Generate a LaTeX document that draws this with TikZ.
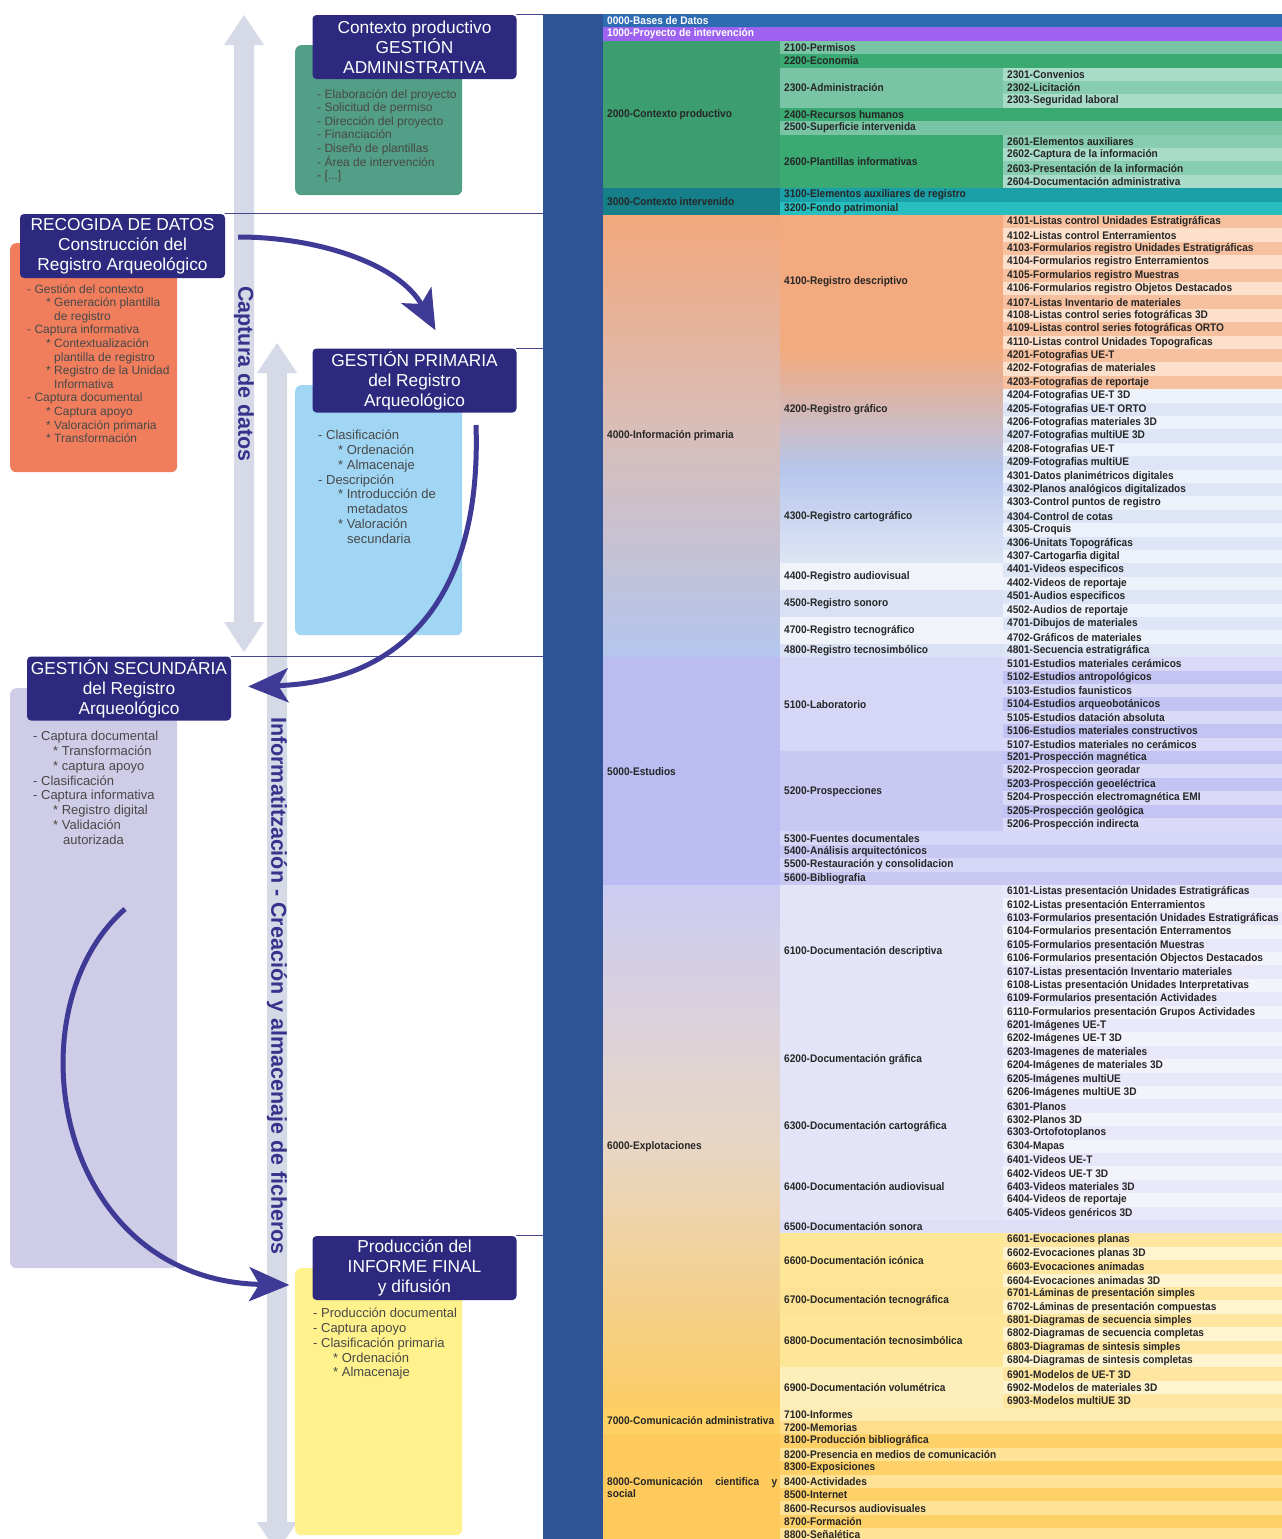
\documentclass[tikz,border=0pt]{standalone}
\usepackage{fontspec}
\setmainfont{Liberation Sans}
\newfontfamily\tabfont[FakeStretch=0.92]{Liberation Sans}
\usetikzlibrary{arrows.meta}

\definecolor{hdrc}{RGB}{45,41,126}
\definecolor{arrc}{RGB}{62,58,150}
\definecolor{linec}{RGB}{70,70,140}
\definecolor{garc}{RGB}{214,218,230}
\definecolor{vlabc}{RGB}{55,50,140}
\definecolor{grnc}{RGB}{82,158,134}
\definecolor{orgc}{RGB}{240,126,92}
\definecolor{bluc}{RGB}{160,214,244}
\definecolor{lavc}{RGB}{206,204,230}
\definecolor{yelc}{RGB}{255,242,140}
\definecolor{txtc}{RGB}{72,72,72}
\definecolor{bandc}{RGB}{46,84,150}
\definecolor{c00}{RGB}{46,108,178}
\definecolor{c10}{RGB}{158,98,240}
\definecolor{c2}{RGB}{60,158,112}
\definecolor{c2a}{RGB}{122,196,166}
\definecolor{c2b}{RGB}{58,170,114}
\definecolor{l2a}{RGB}{168,220,200}
\definecolor{l2b}{RGB}{136,204,178}
\definecolor{c3}{RGB}{22,128,138}
\definecolor{c3a}{RGB}{26,160,166}
\definecolor{c3b}{RGB}{38,190,190}
\definecolor{c4t}{RGB}{242,168,124}
\definecolor{c4m}{RGB}{216,190,186}
\definecolor{c4b}{RGB}{180,198,238}
\definecolor{c41}{RGB}{243,170,126}
\definecolor{c43t}{RGB}{182,198,236}
\definecolor{c43b}{RGB}{222,229,245}
\definecolor{c44}{RGB}{240,243,250}
\definecolor{c45}{RGB}{218,225,244}
\definecolor{l4a}{RGB}{247,192,158}
\definecolor{l4b}{RGB}{252,224,204}
\definecolor{l4c}{RGB}{222,229,246}
\definecolor{l4d}{RGB}{238,242,250}
\definecolor{c5}{RGB}{186,188,242}
\definecolor{c51}{RGB}{214,214,246}
\definecolor{c52}{RGB}{200,200,243}
\definecolor{l5a}{RGB}{196,196,244}
\definecolor{l5b}{RGB}{218,218,248}
\definecolor{c6t}{RGB}{204,204,242}
\definecolor{c6m}{RGB}{232,214,196}
\definecolor{c6b}{RGB}{252,204,100}
\definecolor{c61}{RGB}{228,228,248}
\definecolor{c65}{RGB}{222,222,246}
\definecolor{l6a}{RGB}{232,232,250}
\definecolor{l6b}{RGB}{243,243,252}
\definecolor{c66}{RGB}{253,230,150}
\definecolor{c67}{RGB}{252,226,148}
\definecolor{c69}{RGB}{254,238,186}
\definecolor{l6c}{RGB}{254,230,160}
\definecolor{l6d}{RGB}{255,244,208}
\definecolor{c7}{RGB}{254,210,100}
\definecolor{c71}{RGB}{254,236,180}
\definecolor{c72}{RGB}{254,222,140}
\definecolor{c8}{RGB}{254,202,92}
\definecolor{l8a}{RGB}{254,208,104}
\definecolor{l8b}{RGB}{254,226,150}

\newcommand\smtxt{\fontsize{12}{13.6}\selectfont}
\newcommand\bgtxt{\fontsize{13}{14.8}\selectfont}
\newcommand\tabtxt{\tabfont\bfseries\fontsize{11}{12}\selectfont}
% one cell of the table: name, left, right, first row, rows, fill, text
\newcommand\tcell[7]{%
	\path[#6] (#2,{14+#4*13.4}) rectangle (#3,{14+(#4+#5)*13.4});
	\node[cell] (#1) at ({#2+4},{14+(#4+#5/2)*13.4}) {#7};}
% one-row cells, alternating colours
\newcommand\leaves[5]{%
	\foreach \lbl [count=\k from #2] in {#5}{%
		\ifodd\k\relax\def\rowc{#3}\else\def\rowc{#4}\fi
		\tcell{r\k}{#1}{1282}{\k}{1}{fill=\rowc}{\lbl}}}

\begin{document}
\begin{tikzpicture}[>=Stealth,line join=round,line cap=round,x=1pt,y=-1pt,
	cell/.style={anchor=west,inner sep=0pt,font=\tabtxt,text=black!85},
	hdr/.style={fill=hdrc,text=white,rounded corners=4pt,minimum width=204pt,minimum height=64pt,inner sep=1pt,align=center,font=\fontsize{17.3}{20}\selectfont},
	card/.style={rounded corners=6pt,minimum width=167pt,anchor=north west,inner sep=0pt},
	txt/.style={anchor=north west,inner sep=0pt,align=left,text=txtc},
	vlab/.style={rotate=-90,inner sep=0pt,text=vlabc,font=\bfseries\fontsize{21.5}{24}\selectfont},
	flow/.style={draw=arrc,line width=5pt,line cap=butt,-{Stealth[length=40pt,width=34pt,inset=10pt]}},
	rule/.style={draw=linec,line width=1.1pt}]
	\path[use as bounding box,fill=white] (0,0) rectangle (1282,1539);
	\node[fill=bandc,minimum width=60pt,minimum height=1526pt,anchor=north west,inner sep=0pt] (band) at (543,14) {};
	% table
	\tcell{b0}{603}{1282}{0}{1}{fill=c00}{\color{white}0000-Bases de Datos}
	\tcell{b1}{603}{1282}{1}{1}{fill=c10}{\color{white}1000-Proyecto de intervención}
	\tcell{g2}{603}{780}{2}{11}{fill=c2}{2000-Contexto productivo}
	\tcell{g3}{603}{780}{13}{2}{fill=c3}{3000-Contexto intervenido}
	\tcell{g4}{603}{780}{15}{33}{top color=c4t,bottom color=c4b,middle color=c4m}{4000-Información primaria}
	\tcell{g5}{603}{780}{48}{17}{fill=c5}{5000-Estudios}
	\tcell{g6}{603}{780}{65}{39}{top color=c6t,bottom color=c6b,middle color=c6m}{6000-Explotaciones}
	\tcell{g7}{603}{780}{104}{2}{fill=c7}{7000-Comunicación administrativa}
	\tcell{g8}{603}{780}{106}{8}{fill=c8}{\parbox{170pt}{8000-Comunicación\hfill cientifica\hfill y\\social}}
	\tcell{m21}{780}{1282}{2}{1}{fill=c2a}{2100-Permisos}
	\tcell{m22}{780}{1282}{3}{1}{fill=c2b}{2200-Economia}
	\tcell{m23}{780}{1003}{4}{3}{fill=c2a}{2300-Administración}
	\tcell{m24}{780}{1282}{7}{1}{fill=c2b}{2400-Recursos humanos}
	\tcell{m25}{780}{1282}{8}{1}{fill=c2a}{2500-Superficie intervenida}
	\tcell{m26}{780}{1003}{9}{4}{fill=c2b}{2600-Plantillas informativas}
	\tcell{m31}{780}{1282}{13}{1}{fill=c3a}{3100-Elementos auxiliares de registro}
	\tcell{m32}{780}{1282}{14}{1}{fill=c3b}{3200-Fondo patrimonial}
	\tcell{m41}{780}{1003}{15}{10}{fill=c41}{4100-Registro descriptivo}
	\tcell{m42}{780}{1003}{25}{9}{top color=c41,bottom color=c43t}{4200-Registro gráfico}
	\tcell{m43}{780}{1003}{34}{7}{top color=c43t,bottom color=c43b}{4300-Registro cartográfico}
	\tcell{m44}{780}{1003}{41}{2}{fill=c44}{4400-Registro audiovisual}
	\tcell{m45}{780}{1003}{43}{2}{fill=c45}{4500-Registro sonoro}
	\tcell{m47}{780}{1003}{45}{2}{fill=c44}{4700-Registro tecnográfico}
	\tcell{m48}{780}{1003}{47}{1}{fill=c45}{4800-Registro tecnosimbólico}
	\tcell{m51}{780}{1003}{48}{7}{fill=c51}{5100-Laboratorio}
	\tcell{m52}{780}{1003}{55}{6}{fill=c52}{5200-Prospecciones}
	\tcell{m53}{780}{1282}{61}{1}{fill=c51}{5300-Fuentes documentales}
	\tcell{m54}{780}{1282}{62}{1}{fill=c52}{5400-Análisis arquitectónicos}
	\tcell{m55}{780}{1282}{63}{1}{fill=c51}{5500-Restauración y consolidacion}
	\tcell{m56}{780}{1282}{64}{1}{fill=c52}{5600-Bibliografia}
	\tcell{m61}{780}{1003}{65}{10}{fill=c61}{6100-Documentación descriptiva}
	\tcell{m62}{780}{1003}{75}{6}{fill=c61}{6200-Documentación gráfica}
	\tcell{m63}{780}{1003}{81}{4}{fill=c61}{6300-Documentación cartográfica}
	\tcell{m64}{780}{1003}{85}{5}{fill=c61}{6400-Documentación audiovisual}
	\tcell{m65}{780}{1282}{90}{1}{fill=c65}{6500-Documentación sonora}
	\tcell{m66}{780}{1003}{91}{4}{fill=c66}{6600-Documentación icónica}
	\tcell{m67}{780}{1003}{95}{2}{fill=c67}{6700-Documentación tecnográfica}
	\tcell{m68}{780}{1003}{97}{4}{fill=c66}{6800-Documentación tecnosimbólica}
	\tcell{m69}{780}{1003}{101}{3}{fill=c69}{6900-Documentación volumétrica}
	\tcell{m71}{780}{1282}{104}{1}{fill=c71}{7100-Informes}
	\tcell{m72}{780}{1282}{105}{1}{fill=c72}{7200-Memorias}
	\leaves{1003}{4}{l2b}{l2a}{2301-Convenios,2302-Licitación,2303-Seguridad laboral}
	\leaves{1003}{9}{l2b}{l2a}{2601-Elementos auxiliares,2602-Captura de la información,2603-Presentación de la información,2604-Documentación administrativa}
	\leaves{1003}{15}{l4a}{l4b}{4101-Listas control Unidades Estratigráficas,4102-Listas control Enterramientos,4103-Formularios registro Unidades Estratigráficas,4104-Formularios registro Enterramientos,4105-Formularios registro Muestras,4106-Formularios registro Objetos Destacados,4107-Listas Inventario de materiales,4108-Listas control series fotográficas 3D,4109-Listas control series fotográficas ORTO,4110-Listas control Unidades Topograficas,4201-Fotografias UE-T,4202-Fotografias de materiales,4203-Fotografias de reportaje}
	\leaves{1003}{28}{l4c}{l4d}{4204-Fotografias UE-T 3D,4205-Fotografias UE-T ORTO,4206-Fotografias materiales 3D,4207-Fotografias multiUE 3D,4208-Fotografias UE-T,4209-Fotografias multiUE,4301-Datos planimétricos digitales,4302-Planos analógicos digitalizados,4303-Control puntos de registro,4304-Control de cotas,4305-Croquis,4306-Unitats Topográficas,4307-Cartogarfia digital,4401-Videos especificos,4402-Videos de reportaje,4501-Audios especificos,4502-Audios de reportaje,4701-Dibujos de materiales,4702-Gráficos de materiales,4801-Secuencia estratigráfica}
	\leaves{1003}{48}{l5a}{l5b}{5101-Estudios materiales cerámicos,5102-Estudios antropológicos,5103-Estudios faunisticos,5104-Estudios arqueobotánicos,5105-Estudios datación absoluta,5106-Estudios materiales constructivos,5107-Estudios materiales no cerámicos,5201-Prospección magnética,5202-Prospeccion georadar,5203-Prospección geoeléctrica,5204-Prospección electromagnética EMI,5205-Prospección geológica,5206-Prospección indirecta}
	\leaves{1003}{65}{l6a}{l6b}{6101-Listas presentación Unidades Estratigráficas,6102-Listas presentación Enterramientos,6103-Formularios presentación Unidades Estratigráficas,6104-Formularios presentación Enterramentos,6105-Formularios presentación Muestras,6106-Formularios presentación Objectos Destacados,6107-Listas presentación Inventario materiales,6108-Listas presentación Unidades Interpretativas,6109-Formularios presentación Actividades,6110-Formularios presentación Grupos Actividades,6201-Imágenes UE-T,6202-Imágenes UE-T 3D,6203-Imagenes de materiales,6204-Imágenes de materiales 3D,6205-Imágenes multiUE,6206-Imágenes multiUE 3D,6301-Planos,6302-Planos 3D,6303-Ortofotoplanos,6304-Mapas,6401-Videos UE-T,6402-Videos UE-T 3D,6403-Videos materiales 3D,6404-Videos de reportaje,6405-Videos genéricos 3D}
	\leaves{1003}{91}{l6c}{l6d}{6601-Evocaciones planas,6602-Evocaciones planas 3D,6603-Evocaciones animadas,6604-Evocaciones animadas 3D,6701-Láminas de presentación simples,6702-Láminas de presentación compuestas,6801-Diagramas de secuencia simples,6802-Diagramas de secuencia completas,6803-Diagramas de sintesis simples,6804-Diagramas de sintesis completas,6901-Modelos de UE-T 3D,6902-Modelos de materiales 3D,6903-Modelos multiUE 3D}
	\leaves{780}{106}{l8b}{l8a}{8100-Producción bibliográfica,8200-Presencia en medios de comunicación,8300-Exposiciones,8400-Actividades,8500-Internet,8600-Recursos audiovisuales,8700-Formación,8800-Señalética}
	% grey arrows
	\fill[garc] (244,15) -- (264,45) -- (254,45) -- (254,622) -- (264,622) -- (244,652) -- (224,622) -- (234,622) -- (234,45) -- (224,45) -- cycle;
	\fill[garc] (277,343) -- (297,373) -- (287,373) -- (287,1522) -- (297,1522) -- (277,1552) -- (257,1522) -- (267,1522) -- (267,373) -- (257,373) -- cycle;
	% cards
	\node[card,fill=grnc,minimum height=150pt] (grn) at (295,45) {};
	\node[card,fill=orgc,minimum height=229pt] (org) at (10,243) {};
	\node[card,fill=bluc,minimum height=250pt] (blu) at (295,385) {};
	\node[card,fill=lavc,minimum height=580pt] (lav) at (10,688) {};
	\node[card,fill=yelc,minimum height=267pt] (yel) at (295,1268) {};
	\node[hdr] (ctx) at (414.5,47) {Contexto productivo\\GESTIÓN\\ADMINISTRATIVA};
	\node[hdr,minimum width=205pt] (rec) at (122.5,246) {RECOGIDA DE DATOS\\Construcción del\\Registro Arqueológico};
	\node[hdr] (prim) at (414.5,380.5) {GESTIÓN PRIMARIA\\del Registro\\Arqueológico};
	\node[hdr] (sec) at (129,688.5) {GESTIÓN SECUNDÁRIA\\del Registro\\Arqueológico};
	\node[hdr] (fin) at (414.5,1268) {Producción del\\INFORME FINAL\\y difusión};
	\node[txt,font=\smtxt] (grntx) at (317,89) {- Elaboración del proyecto\\- Solicitud de permiso\\- Dirección del proyecto\\- Financiación\\- Diseño de plantillas\\- Área de intervención\\- [...]};
	\node[txt,font=\smtxt] (orgtx) at (27,284) {- Gestión del contexto\\\hspace*{19pt}* Generación plantilla\\\hspace*{27pt}de registro\\- Captura informativa\\\hspace*{19pt}* Contextualización\\\hspace*{27pt}plantilla de registro\\\hspace*{19pt}* Registro de la Unidad\\\hspace*{27pt}Informativa\\- Captura documental\\\hspace*{19pt}* Captura apoyo\\\hspace*{19pt}* Valoración primaria\\\hspace*{19pt}* Transformación};
	\node[txt,font=\bgtxt] (blutx) at (318,430) {- Clasificación\\\hspace*{20pt}* Ordenación\\\hspace*{20pt}* Almacenaje\\- Descripción\\\hspace*{20pt}* Introducción de\\\hspace*{29pt}metadatos\\\hspace*{20pt}* Valoración\\\hspace*{29pt}secundaria};
	\node[txt,font=\bgtxt] (lavtx) at (33,731) {- Captura documental\\\hspace*{20pt}* Transformación\\\hspace*{20pt}* captura apoyo\\- Clasificación\\- Captura informativa\\\hspace*{20pt}* Registro digital\\\hspace*{20pt}* Validación\\\hspace*{30pt}autorizada};
	\node[txt,font=\bgtxt] (yeltx) at (313,1308) {- Producción documental\\- Captura apoyo\\- Clasificación primaria\\\hspace*{20pt}* Ordenación\\\hspace*{20pt}* Almacenaje};
	\node[vlab] (cap) at (244,374) {Captura de datos};
	\node[vlab] (inf) at (277,986) {Informatitzación - Creación y almacenaje de ficheros};
	% rules to the table
	\foreach \h in {ctx,rec,prim,sec,fin}\draw[rule] (\h.north east) -- (\h.north east -| band.west);
	% flow
	\coordinate (p2) at (476,425);
	\coordinate (p3) at (125,909);
	\draw[flow] ([shift={(13,-9)}]rec.east) .. controls (320,237) and (400,265) .. ([shift={(21,-18)}]prim.north);
	\draw[flow] (p2) .. controls (482,600) and (400,682) .. ([shift={(17,-2)}]sec.east);
	\draw[flow] (p3) .. controls (10,1010) and (55,1280) .. ([shift={(-23,17)}]fin.west);
\end{tikzpicture}
\end{document}
